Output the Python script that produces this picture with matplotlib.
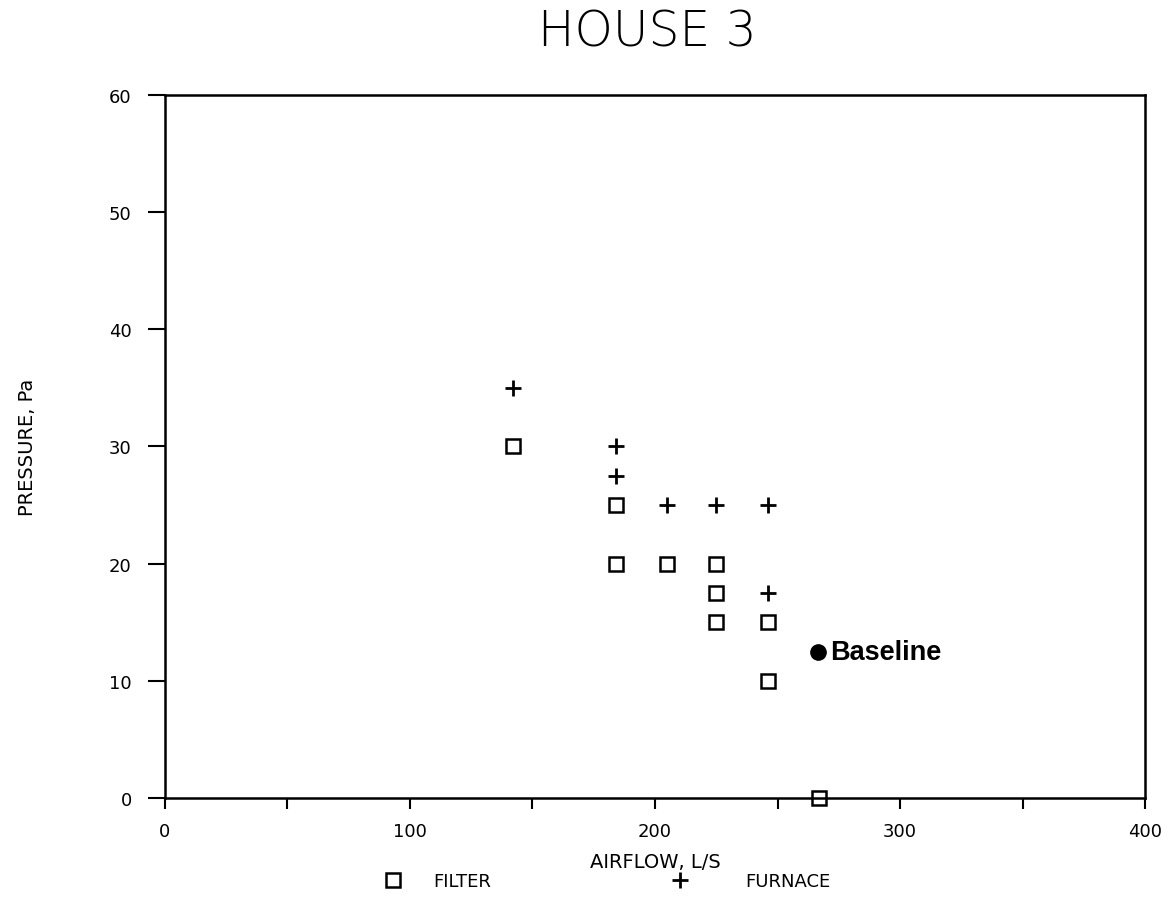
import matplotlib
matplotlib.use("Agg")
import matplotlib.pyplot as plt

# data
filter_x = [142, 184, 184, 205, 225, 225, 225, 246, 246, 267]
filter_y = [30, 25, 20, 20, 20, 17.5, 15, 15, 10, 0]

furnace_x = [142, 184, 184, 205, 225, 246, 246]
furnace_y = [35, 30, 27.5, 25, 25, 25, 17.5]

baseline_x = [266.5]
baseline_y = [12.5]

x_ticks = [0, 50, 100, 150, 200, 250, 300, 350, 400]
x_labels = ["0", "", "100", "", "200", "", "300", "", "400"]
y_ticks = [0, 10, 20, 30, 40, 50, 60]

plt.rcParams["font.family"] = ["DejaVu Sans"]

fig = plt.figure(figsize=(11.75, 9.2), dpi=100)
ax = fig.add_axes([0.1404, 0.1315, 0.8341, 0.7642])

sq, = ax.plot(filter_x, filter_y, ls="none", marker="s", ms=10, mfc="white",
              mec="black", mew=1.8, clip_on=False, label="FILTER")
pl, = ax.plot(furnace_x, furnace_y, ls="none", marker="+", ms=11, mec="black",
              mew=2.0, clip_on=False, label="FURNACE")
ax.plot(baseline_x, baseline_y, ls="none", marker="o", ms=11, color="black")
ax.annotate("Baseline", (baseline_x[0], baseline_y[0]), xytext=(9, 0),
            textcoords="offset points", va="center", ha="left",
            fontsize=19.5, fontweight="bold", family="Liberation Sans")

ax.set_xlim(0, 400)
ax.set_ylim(0, 60)
ax.set_xticks(x_ticks)
ax.set_xticklabels(x_labels)
ax.set_yticks(y_ticks)
ax.tick_params(axis="x", direction="out", length=8, width=1.5, pad=9, labelsize=13)
ax.tick_params(axis="y", direction="out", length=12, width=1.5, pad=12, labelsize=13)
for s in ax.spines.values():
    s.set_linewidth(1.8)

ax.set_xlabel("AIRFLOW, L/S", fontsize=14, labelpad=9)
ax.set_ylabel("PRESSURE, Pa", fontsize=14, labelpad=52)

fig.text(0.551, 0.965, "HOUSE 3", ha="center", va="center", fontsize=35,
         fontweight="light")

# legend entries below the x label
fig.legend(handles=[sq], loc="center left", bbox_to_anchor=(0.3132, 0.0413),
           frameon=False, fontsize=13, handlelength=1.0, handletextpad=1.7)
fig.legend(handles=[pl], loc="center left", bbox_to_anchor=(0.5573, 0.0413),
           frameon=False, fontsize=13, handlelength=1.0, handletextpad=3.1)

fig.savefig("out.png", dpi=100)
